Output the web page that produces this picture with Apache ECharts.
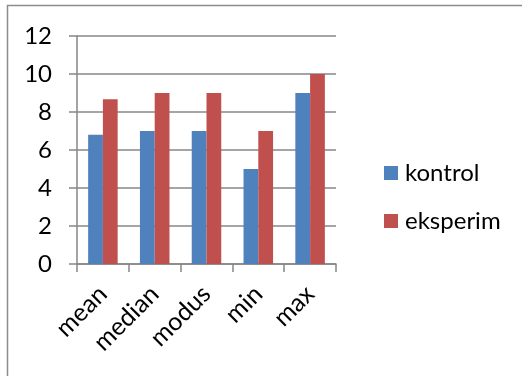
<!DOCTYPE html>
<html>
<head>
<meta charset="utf-8">
<script src="https://cdn.jsdelivr.net/npm/echarts@6/dist/echarts.min.js"></script>
<style>
  html, body { margin: 0; padding: 0; background: #ffffff; }
  #chart { width: 522px; height: 376px; }
</style>
</head>
<body>
<div id="chart"></div>
<script>
// Summary statistics for the two groups
const categories = ['mean', 'median', 'modus', 'min', 'max'];
const kontrol = [6.8, 7, 7, 5, 9];
const eksperim = [8.67, 9, 9, 7, 10];
const yTicks = { min: 0, max: 12, step: 2 };

const axisGray = '#878787';
const font = 'Lato, "Open Sans", sans-serif';

const chart = echarts.init(document.getElementById('chart'), null, { renderer: 'canvas' });
chart.setOption({
  backgroundColor: '#ffffff',
  animation: false,
  graphic: [{
    type: 'rect',
    shape: { x: 7.5, y: 5.5, width: 600, height: 500 },
    style: { fill: 'none', stroke: '#8c8c8c', lineWidth: 1.5 },
    silent: true
  }],
  grid: { left: 77, right: 186, top: 36, bottom: 112, containLabel: false },
  legend: {
    orient: 'vertical',
    left: 379,
    top: 155,
    icon: 'rect',
    itemWidth: 14,
    itemHeight: 14,
    itemGap: 22,
    textStyle: { fontFamily: font, fontSize: 24, color: '#000', lineHeight: 26, padding: [0, 0, 0, 2] },
    data: ['kontrol', 'eksperim']
  },
  xAxis: {
    type: 'category',
    data: categories,
    boundaryGap: true,
    axisLine: { lineStyle: { color: axisGray, width: 1.5 } },
    axisTick: { show: true, length: 8, lineStyle: { color: axisGray, width: 1.5 } },
    axisLabel: { rotate: 45, margin: 26, fontFamily: font, fontSize: 25, color: '#000', interval: 0 }
  },
  yAxis: {
    type: 'value',
    min: yTicks.min,
    max: yTicks.max,
    interval: yTicks.step,
    axisLine: { show: true, lineStyle: { color: axisGray, width: 1.5 } },
    axisTick: { show: true, length: 8, lineStyle: { color: axisGray, width: 1.5 } },
    splitLine: { lineStyle: { color: axisGray, width: 1.5 } },
    axisLabel: { margin: 25, fontFamily: font, fontSize: 24, color: '#000' }
  },
  series: [
    {
      name: 'kontrol',
      type: 'bar',
      data: kontrol,
      barGap: '0%',
      barCategoryGap: '43%',
      itemStyle: { color: '#4F81BD' }
    },
    {
      name: 'eksperim',
      type: 'bar',
      data: eksperim,
      barGap: '0%',
      barCategoryGap: '43%',
      itemStyle: { color: '#C0504D' }
    }
  ]
});
</script>
</body>
</html>
